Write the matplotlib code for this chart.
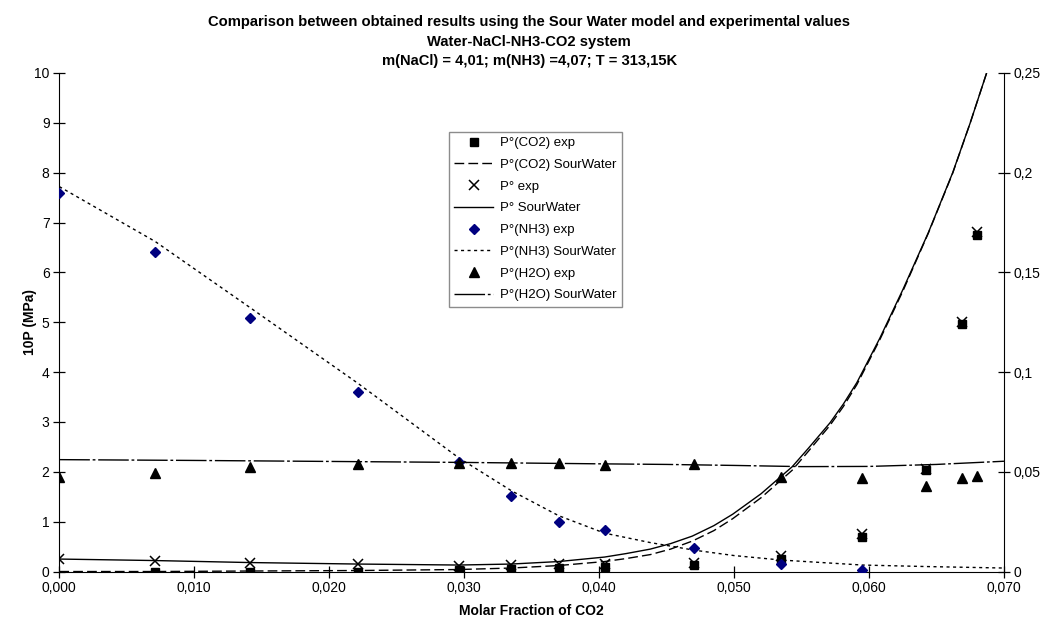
import numpy as np
import matplotlib
matplotlib.use("Agg")
import matplotlib.pyplot as plt
from matplotlib import font_manager
from matplotlib.ticker import FuncFormatter

plt.rcParams['font.family'] = ['Liberation Sans', 'DejaVu Sans']

# ---------------------------------------------------------------------------
# Data
# ---------------------------------------------------------------------------
x_exp = [0.0000, 0.0071, 0.0141, 0.0221, 0.0296, 0.0335, 0.0370, 0.0404,
         0.0470, 0.0535, 0.0595, 0.0642, 0.0669, 0.0680]

# left axis (10P, MPa)
co2_exp = [None, 0.00, 0.00, 0.00, 0.03, 0.05, 0.08, 0.10,
           0.13, 0.25, 0.70, 2.03, 4.97, 6.75]
ptot_exp = [0.25, 0.22, 0.18, 0.15, 0.12, 0.13, 0.15, 0.15,
            0.17, 0.32, 0.75, 2.05, 5.00, 6.80]
x_nh3 = [0.0000, 0.0071, 0.0141, 0.0221, 0.0296, 0.0335, 0.0370, 0.0404,
         0.0470, 0.0535, 0.0595]
nh3_exp = [7.60, 6.40, 5.08, 3.60, 2.20, 1.52, 1.00, 0.83, 0.47, 0.16, 0.03]

# right axis
h2o_exp = [0.0475, 0.0495, 0.0525, 0.0538, 0.0545, 0.0545, 0.0545, 0.0535,
           0.0537, 0.0473, 0.0468, 0.0430, 0.0470, 0.0478]

# model curves (SourWater)
x_mod = [0.0000, 0.0071, 0.0141, 0.0221, 0.0296, 0.0335, 0.0370, 0.0404,
         0.0420, 0.0438, 0.0453, 0.0469, 0.0485, 0.0499, 0.0520, 0.0543,
         0.0555, 0.0571, 0.0581, 0.0591, 0.0608, 0.0625, 0.0644, 0.0662,
         0.0675, 0.0688, 0.0700]
ptot_mod = [0.25, 0.22, 0.18, 0.15, 0.13, 0.15, 0.20, 0.29,
            0.36, 0.45, 0.56, 0.71, 0.92, 1.15, 1.56, 2.10,
            2.47, 2.98, 3.36, 3.79, 4.68, 5.65, 6.80, 8.00,
            9.00, 10.07, 11.0]
co2_mod = [0.00, 0.00, 0.01, 0.02, 0.04, 0.07, 0.12, 0.20,
           0.26, 0.34, 0.45, 0.61, 0.82, 1.06, 1.48, 2.03,
           2.41, 2.93, 3.31, 3.75, 4.65, 5.62, 6.79, 7.99,
           9.00, 10.07, 11.0]

x_nh3_mod = [0.0000, 0.0071, 0.0141, 0.0221, 0.0296, 0.0335, 0.0370, 0.0404,
             0.0438, 0.0470, 0.0500, 0.0535, 0.0595, 0.0642, 0.0700]
nh3_mod = [7.72, 6.62, 5.30, 3.78, 2.28, 1.62, 1.12, 0.77,
           0.58, 0.43, 0.32, 0.23, 0.13, 0.10, 0.07]

x_h2o_mod = [0.000, 0.010, 0.020, 0.030, 0.040, 0.045, 0.050, 0.055,
             0.060, 0.065, 0.070]
h2o_mod = [0.0561, 0.0557, 0.0552, 0.0547, 0.0540, 0.0537, 0.0532, 0.0526,
           0.0527, 0.0537, 0.0553]

x_ticks = [0.000, 0.010, 0.020, 0.030, 0.040, 0.050, 0.060, 0.070]
y_ticks = list(range(0, 11))
y2_ticks = [0, 0.05, 0.1, 0.15, 0.2, 0.25]

title_lines = ['Comparison between obtained results using the Sour Water model and experimental values',
               'Water-NaCl-NH3-CO2 system',
               'm(NaCl) = 4,01; m(NH3) =4,07; T = 313,15K']

# title font: a narrow face if there is one
names = {f.name for f in font_manager.fontManager.ttflist}
if 'Liberation Sans Narrow' in names:
    title_family, title_size = ['Liberation Sans Narrow', 'DejaVu Sans'], 12.6
else:
    title_family, title_size = ['Liberation Sans', 'DejaVu Sans'], 10.6

# ---------------------------------------------------------------------------
fig = plt.figure(figsize=(10.48, 6.24), dpi=100)
ax = fig.add_axes([0.0566, 0.0841, 0.9014, 0.799])
ax2 = ax.twinx()

def comma(v, pos, fmt):
    return fmt.format(v).replace('.', ',')

def comma_g(v, pos):
    s = ('%.2f' % v).rstrip('0').rstrip('.')
    return s.replace('.', ',')

co2_x = [x for x, v in zip(x_exp, co2_exp) if v is not None]
co2_v = [v for v in co2_exp if v is not None]

h1, = ax.plot(co2_x, co2_v, 's', color='black', ms=5.5, ls='none',
              label='P°(CO2) exp', zorder=5)
h2, = ax.plot(x_mod, co2_mod, color='black', lw=1.0, dashes=(7, 3),
              label='P°(CO2) SourWater')
h3, = ax.plot(x_exp, ptot_exp, 'x', color='black', ms=6.5, mew=1.1, ls='none',
              label='P° exp', zorder=5)
h4, = ax.plot(x_mod, ptot_mod, color='black', lw=1.0, label='P° SourWater')
h5, = ax.plot(x_nh3, nh3_exp, 'D', color='#000080', ms=5.3, ls='none',
              label='P°(NH3) exp', zorder=5)
h6, = ax.plot(x_nh3_mod, nh3_mod, color='black', lw=1.0, dashes=(2.2, 2.5),
              label='P°(NH3) SourWater')
h7, = ax2.plot(x_exp, h2o_exp, '^', color='black', ms=6.5, ls='none',
               label='P°(H2O) exp', zorder=5)
h8, = ax2.plot(x_h2o_mod, h2o_mod, color='black', lw=1.0,
               dashes=(22, 2, 2, 2), label='P°(H2O) SourWater')

ax.set_xlim(0, 0.070)
ax.set_ylim(0, 10)
ax2.set_ylim(0, 0.25)
ax.set_xticks(x_ticks)
ax.set_yticks(y_ticks)
ax2.set_yticks(y2_ticks)
ax.xaxis.set_major_formatter(FuncFormatter(lambda v, p: comma(v, p, '{:.3f}')))
ax.yaxis.set_major_formatter(FuncFormatter(lambda v, p: '%d' % round(v)))
ax2.yaxis.set_major_formatter(FuncFormatter(comma_g))

for a in (ax, ax2):
    a.spines['top'].set_visible(False)
    a.tick_params(direction='inout', length=8, width=0.9, labelsize=10,
                  colors='black', pad=3)
ax.spines['right'].set_visible(False)
ax2.spines['left'].set_visible(False)
ax2.spines['bottom'].set_visible(False)

ax.set_xlabel('Molar Fraction of CO2', fontsize=10, fontweight='bold', labelpad=6)
ax.set_ylabel('10P (MPa)', fontsize=10, fontweight='bold')
ax.yaxis.set_label_coords(-0.024, 0.5)

for txt, ypos in zip(title_lines, [0.965, 0.933, 0.902]):
    fig.text(0.505, ypos, txt, ha='center', va='center', family=title_family,
             fontsize=title_size, fontweight='bold')

leg = ax2.legend(handles=[h1, h2, h3, h4, h5, h6, h7, h8],
                 loc='upper left', bbox_to_anchor=(0.412, 0.882),
                 fontsize=9.5, frameon=True, fancybox=False, shadow=False,
                 handlelength=3.0, handletextpad=0.5, labelspacing=0.72,
                 borderpad=0.4, borderaxespad=0.0)
leg.get_frame().set_edgecolor('#707070')
leg.get_frame().set_linewidth(1.0)

fig.savefig('out.png', dpi=100)
